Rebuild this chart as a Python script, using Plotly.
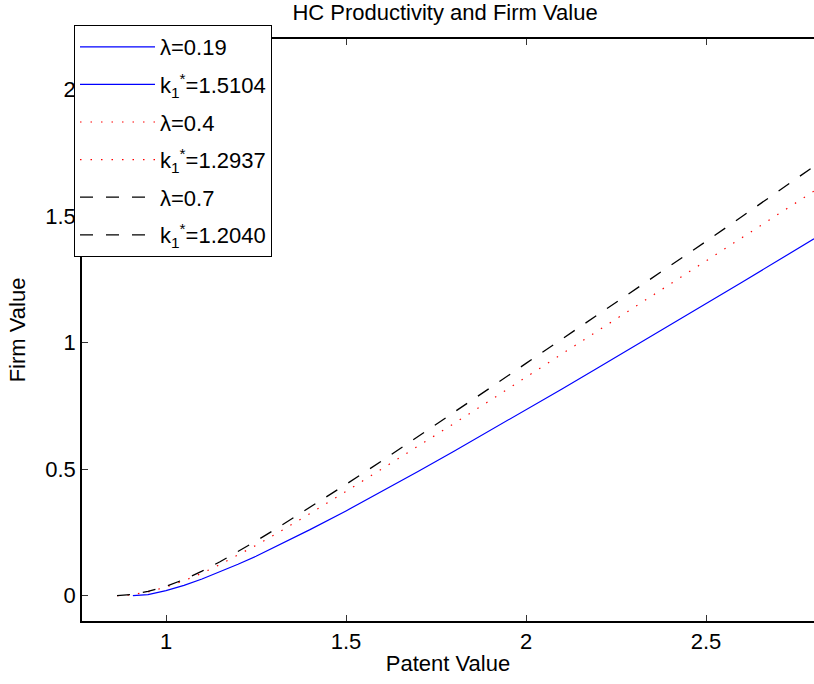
import plotly.graph_objects as go

# Data
x_blue = [0.908, 0.95, 1.0, 1.05, 1.1, 1.15, 1.2, 1.25, 1.3, 1.35, 1.4, 1.5, 1.6, 1.7, 1.8, 1.9, 2.0, 2.1, 2.2, 2.3, 2.4, 2.5, 2.6, 2.7, 2.8]
y_blue = [0.0, 0.004, 0.02, 0.041, 0.066, 0.094, 0.124, 0.156, 0.19, 0.225, 0.261, 0.335, 0.412, 0.491, 0.571, 0.652, 0.734, 0.817, 0.9005, 0.9845, 1.069, 1.154, 1.239, 1.3245, 1.4105]

x_red = [0.864, 0.9, 0.95, 1.0, 1.05, 1.1, 1.15, 1.2, 1.25, 1.3, 1.35, 1.4, 1.5, 1.6, 1.7, 1.8, 1.9, 2.0, 2.1, 2.2, 2.3, 2.4, 2.5, 2.6, 2.7, 2.8]
y_red = [0.0, 0.003, 0.015, 0.034, 0.059, 0.089, 0.123, 0.16, 0.199, 0.2395, 0.2815, 0.3245, 0.412, 0.5005, 0.59, 0.6805, 0.7715, 0.863, 0.955, 1.047, 1.139, 1.231, 1.323, 1.415, 1.507, 1.599]

x_black = [0.864, 0.9, 0.95, 1.0, 1.05, 1.1, 1.15, 1.2, 1.25, 1.3, 1.35, 1.4, 1.5, 1.6, 1.7, 1.8, 1.9, 2.0, 2.1, 2.2, 2.3, 2.4, 2.5, 2.6, 2.7, 2.8]
y_black = [0.0, 0.004, 0.017, 0.037, 0.064, 0.097, 0.134, 0.174, 0.216, 0.2595, 0.304, 0.349, 0.44, 0.533, 0.628, 0.724, 0.821, 0.918, 1.014, 1.11, 1.206, 1.303, 1.4, 1.4985, 1.5975, 1.697]

lambda_labels = ["λ=0.19", "λ=0.4", "λ=0.7"]
k_labels = ["k<sub>1</sub><sup>*</sup>=1.5104", "k<sub>1</sub><sup>*</sup>=1.2937", "k<sub>1</sub><sup>*</sup>=1.2040"]

x_ticks = [1, 1.5, 2, 2.5]
x_tick_text = ["1", "1.5", "2", "2.5"]
y_ticks = [0, 0.5, 1, 1.5, 2]
y_tick_text = ["0", "0.5", "1", "1.5", "2"]

series = [
    (x_blue, y_blue, dict(color="#0000ff", width=1.2)),
    (x_red, y_red, dict(color="#ff0000", width=1.2, dash="1.5px,9px")),
    (x_black, y_black, dict(color="#000000", width=1.3, dash="13px,13px")),
]

FONT = "Liberation Sans, Arial, sans-serif"
FS = 22
fig = go.Figure()
for i, (xs, ys, ln) in enumerate(series):
    fig.add_trace(go.Scatter(x=xs, y=ys, mode="lines", line=dict(ln), name=lambda_labels[i],
                             legendgroup=f"g{2*i}", showlegend=True))
    fig.add_trace(go.Scatter(x=[None], y=[None], mode="lines", line=dict(ln), name=k_labels[i],
                             legendgroup=f"g{2*i+1}", showlegend=True))

fig.update_layout(
    width=814, height=684,
    margin=dict(l=82, r=0, t=39, b=63),
    paper_bgcolor="white", plot_bgcolor="white",
    font=dict(family=FONT, size=FS, color="black"),
    title=dict(text="HC Productivity and Firm Value", x=445/814, xanchor="center",
               y=1 - 12/684, yanchor="middle", yref="container",
               font=dict(family=FONT, size=FS, color="black")),
    xaxis=dict(range=[1 - 84/360, 2.8], tickvals=x_ticks, ticktext=x_tick_text,
               ticks="inside", ticklen=6, tickwidth=1, tickcolor="#333",
               showline=True, linecolor="black", linewidth=1.5, mirror="ticks",
               showgrid=False, zeroline=False, tickfont=dict(size=FS),
               title=dict(text="Patent Value", standoff=2, font=dict(size=FS))),
    yaxis=dict(range=[-0.1, 2.2], tickvals=y_ticks, ticktext=y_tick_text,
               ticks="inside", ticklen=6, tickwidth=1, tickcolor="#333",
               showline=True, linecolor="black", linewidth=1.5, mirror=False,
               showgrid=False, zeroline=False, tickfont=dict(size=FS),
               title=dict(text="Firm Value", standoff=14, font=dict(size=FS))),
    legend=dict(x=(74 - 82) / 732, xanchor="left", y=(621 - 25) / 582, yanchor="top",
                bgcolor="white", bordercolor="black", borderwidth=1,
                font=dict(family=FONT, size=FS, color="black"),
                tracegroupgap=6, itemwidth=75, traceorder="grouped"),
    showlegend=True,
)

fig.write_html("out.html")
